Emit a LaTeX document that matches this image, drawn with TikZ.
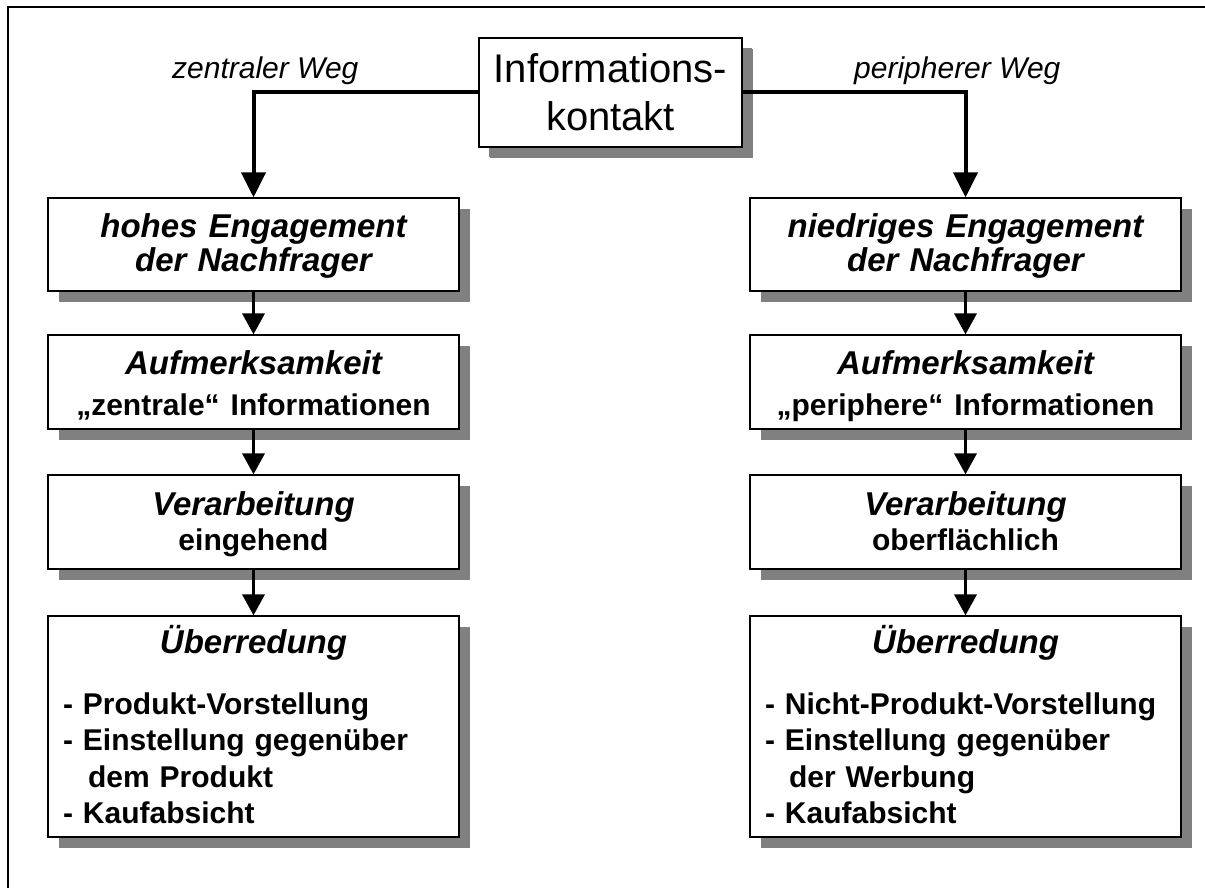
\documentclass[tikz,border=0pt]{standalone}
\usepackage{fontspec}
\setmainfont{Liberation Sans}
\usetikzlibrary{arrows.meta,shadows}
\definecolor{shadowgray}{RGB}{128,128,128}
\newcommand\hstrut[1]{\rule{0pt}{#1}}
\newcommand\dstrut[1]{\rule[-#1]{0pt}{#1}}
\tikzset{
  box/.style={draw=black, line width=1.2pt, fill=white, inner xsep=15pt, inner ysep=0pt,
    drop shadow={shadow xshift=11pt, shadow yshift=-11pt, fill=shadowgray, opacity=1}},
  lbox/.style={box, text width=381pt, minimum height=#1},
  rbox/.style={box, text width=401pt, minimum height=#1},
  twoline/.style={align=center, font=\fontsize{33}{34.5}\selectfont\bfseries},
  listbox/.style={align=left, font=\fontsize{30}{36.5}\selectfont\bfseries},
  wayl/.style={font=\fontsize{30}{36}\selectfont\itshape, inner sep=0pt, anchor=base west},
  mainarrow/.style={line width=4pt, -{Triangle[width=24pt,length=25pt]}},
  subarrow/.style={line width=3.5pt, -{Triangle[width=22pt,length=21pt]}},
}
\begin{document}
\begin{tikzpicture}[x=1pt,y=-1pt]
\useasboundingbox (0,0) rectangle (1205,888);
\draw[line width=2.5pt] (8,888) -- (8,7) -- (1205,7);

\node[box, inner sep=0pt, minimum width=263pt, minimum height=109pt, align=center,
  font=\fontsize{40}{48}\selectfont, drop shadow={shadow xshift=10pt, shadow yshift=-10pt, fill=shadowgray, opacity=1}]
  (top) at (610.5,92.5) {Informations-\\kontakt};

\node[wayl] (zw) at (172,79) {zentraler Weg};
\node[wayl] (pw) at (854,79) {peripherer Weg};

% left column
\node[lbox=93pt, twoline] (L1) at (253.5,244.5)
  {\hstrut{28pt}\itshape hohes Engagement\\\itshape der Nachfrager\dstrut{8pt}};
\node[lbox=94pt, twoline] (L2) at (253.5,382)
  {\hstrut{33pt}{\itshape Aufmerksamkeit}\\[6.5pt]{\fontsize{30}{35}\selectfont „zentrale“ Informationen}\dstrut{8pt}};
\node[lbox=94pt, twoline] (L3) at (253.5,522)
  {\hstrut{29pt}{\itshape Verarbeitung}\\[0.5pt]{\fontsize{30}{35}\selectfont eingehend}\dstrut{8pt}};
\node[lbox=221pt, listbox] (L4) at (253.5,726.5)
  {\hstrut{31pt}\makebox[\hsize][c]{\fontsize{33}{36}\selectfont\itshape Überredung}\\[24.5pt]
- Produkt-Vorstellung\\
- Einstellung gegenüber\\
\hspace*{25pt}dem Produkt\\
- Kaufabsicht\dstrut{7pt}};

% right column
\node[rbox=93pt, twoline] (R1) at (965.5,244.5)
  {\hstrut{28pt}\itshape niedriges Engagement\\\itshape der Nachfrager\dstrut{8pt}};
\node[rbox=94pt, twoline] (R2) at (965.5,382)
  {\hstrut{33pt}{\itshape Aufmerksamkeit}\\[6.5pt]{\fontsize{30}{35}\selectfont „periphere“ Informationen}\dstrut{8pt}};
\node[rbox=94pt, twoline] (R3) at (965.5,522)
  {\hstrut{29pt}{\itshape Verarbeitung}\\[0.5pt]{\fontsize{30}{35}\selectfont oberflächlich}\dstrut{8pt}};
\node[rbox=221pt, listbox] (R4) at (965.5,726.5)
  {\hstrut{31pt}\makebox[\hsize][c]{\fontsize{33}{36}\selectfont\itshape Überredung}\\[24.5pt]
- Nicht-Produkt-Vorstellung\\
- Einstellung gegenüber\\
\hspace*{24pt}der Werbung\\
- Kaufabsicht\dstrut{7pt}};

\draw[mainarrow] (top.west) -| (L1.north);
\draw[mainarrow] (top.east) -| (R1.north);
\draw[subarrow] (L1.south) -- (L2.north);
\draw[subarrow] (L2.south) -- (L3.north);
\draw[subarrow] (L3.south) -- (L4.north);
\draw[subarrow] (R1.south) -- (R2.north);
\draw[subarrow] (R2.south) -- (R3.north);
\draw[subarrow] (R3.south) -- (R4.north);
\end{tikzpicture}
\end{document}
